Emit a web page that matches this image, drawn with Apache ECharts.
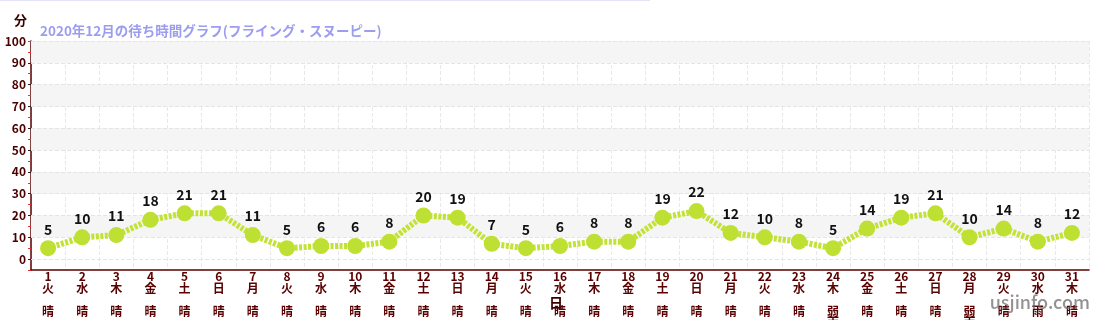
<!DOCTYPE html>
<html><head><meta charset="utf-8">
<script src="https://cdn.jsdelivr.net/npm/echarts@6/dist/echarts.min.js"></script>
<style>html,body{margin:0;padding:0;background:#fff}#c{width:1100px;height:320px}</style>
</head><body><div id="c"></div>
<script>
const days = ['1','2','3','4','5','6','7','8','9','10','11','12','13','14','15','16','17','18','19','20','21','22','23','24','25','26','27','28','29','30','31'];
const weekdays = ['火','水','木','金','土','日','月','火','水','木','金','土','日','月','火','水','木','金','土','日','月','火','水','木','金','土','日','月','火','水','木'];
const weather = ['晴','晴','晴','晴','晴','晴','晴','晴','晴','晴','晴','晴','晴','晴','晴','晴','晴','晴','晴','晴','晴','晴','晴','弱\n雨','晴','晴','晴','弱\n雨','晴','雨','晴'];
const waits = [5,10,11,18,21,21,11,5,6,6,8,20,19,7,5,6,8,8,19,22,12,10,8,5,14,19,21,10,14,8,12];
const titleText = '2020年12月の待ち時間グラフ(フライング・スヌーピー)';
const gridValues = [0,10,20,30,40,50,60,70,80,90,100];
const bands = [[90,100],[70,80],[50,60],[30,40],[10,20]];

const cats = days.map((d,i)=>d+'\n'+weekdays[i]+'\n\n'+weather[i]);
const font = '"Noto Sans CJK JP","Noto Sans",sans-serif';
const chart = echarts.init(document.getElementById('c'));
chart.setOption({
  animation:false,
  textStyle:{fontFamily:font},
  title:{text:titleText,left:35,top:19,textStyle:{color:'#9c9cf0',fontSize:13.5,fontWeight:'bold',fontFamily:font}},
  graphic:[
    {type:'rect',left:0,top:0,shape:{width:650,height:1},style:{fill:'#e4e4f8'}},
    {type:'text',right:10,bottom:9,z:100,style:{text:'usjinfo.com',fill:'rgba(100,100,100,0.7)',font:'500 18px '+font}}
  ],
  grid:{left:31,right:11,top:41,bottom:50,outerBoundsMode:'none',containLabel:false},
  xAxis:{type:'category',data:cats,boundaryGap:true,name:'日',nameLocation:'middle',nameGap:26,nameMoveOverlap:false,
    nameTextStyle:{color:'#3a0000',fontSize:14,fontWeight:'bold',padding:[0,8,0,0]},
    axisLine:{onZero:false,lineStyle:{color:'#5a0000',width:1.5}},
    axisTick:{alignWithLabel:true,length:4,lineStyle:{color:'#333'}},
    axisLabel:{interval:0,color:'#5a0000',fontSize:12,lineHeight:11.5,margin:1,fontWeight:'bold'},
    splitLine:{show:true,interval:0,lineStyle:{color:'#e8e8e8',type:'dashed'}}
  },
  yAxis:[
    {type:'value',min:-5,max:100,interval:5,name:'分',nameLocation:'end',nameGap:14,nameMoveOverlap:false,
    nameTextStyle:{color:'#3a0000',fontSize:13,fontWeight:'bold',align:'right',padding:[0,4,0,0]},
    axisLine:{show:true,lineStyle:{color:'#5a0000',width:1.5}},
    axisTick:{show:true,length:3,lineStyle:{color:'#222'}},
    axisLabel:{color:'#4a0000',fontSize:12,fontWeight:'bold',margin:5,
      formatter:v=> (v>=0 && v%10===0 ? String(v) : '')},
    splitLine:{show:false}
    },
    {type:'value',min:-5,max:100,interval:10,position:'left',offset:0,
    axisLine:{show:false},axisLabel:{show:false},splitLine:{show:false},
    axisTick:{show:true,length:3,lineStyle:{color:'#e03030'}}}
  ],
  series:[
    {type:'line',data:[],markArea:{silent:true,itemStyle:{color:'#f5f5f5'},
      data:bands.map(b=>[{yAxis:b[0]},{yAxis:b[1]}])},
      markLine:{silent:true,symbol:'none',label:{show:false},lineStyle:{color:'#e4e4e4',type:'dashed',width:1},
      data:gridValues.map(v=>({yAxis:v}))}},
    {type:'line',data:waits,symbol:'circle',symbolSize:16,z:5,
      lineStyle:{color:'#c2e236',width:6,type:[3,1.5]},
      itemStyle:{color:'#bde033'},
      label:{show:true,position:'top',distance:4,color:'#111',fontSize:14,fontWeight:'bold'}
    }
  ]
});
</script></body></html>
